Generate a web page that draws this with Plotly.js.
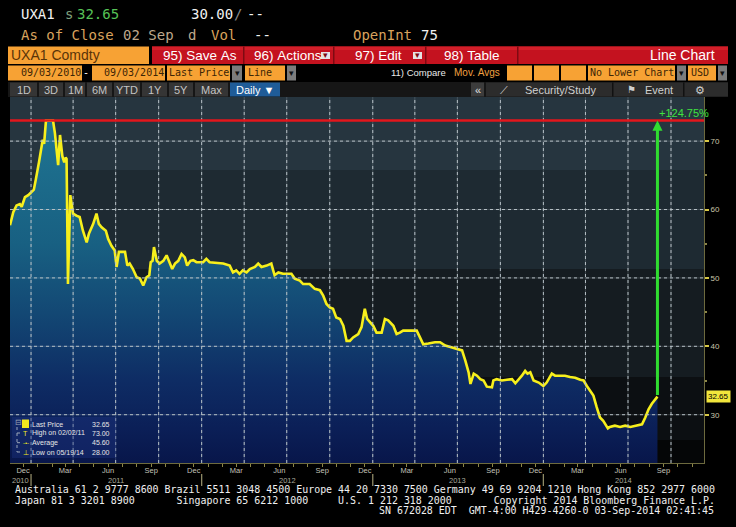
<!DOCTYPE html>
<html><head><meta charset="utf-8">
<script src="https://cdn.plot.ly/plotly-3.0.1.min.js"></script>
<style>html,body{margin:0;padding:0;background:#000;overflow:hidden}#chart{width:736px;height:527px}</style>
</head><body><div id="chart"></div>
<script>
// ---------------- data ----------------
const DATES = [
'2010-11-17','2010-11-24','2010-12-01','2010-12-08','2010-12-12','2010-12-19','2010-12-26','2011-01-02','2011-01-07','2011-01-11',
'2011-01-14','2011-01-18','2011-01-26','2011-01-29','2011-02-01','2011-02-02','2011-02-17','2011-02-21','2011-02-25','2011-02-28',
'2011-03-04','2011-03-06','2011-03-09','2011-03-13','2011-03-16','2011-03-18','2011-03-21','2011-03-26','2011-04-01','2011-04-08',
'2011-04-15','2011-04-22','2011-04-30','2011-05-05','2011-05-14','2011-05-21','2011-05-26','2011-06-01','2011-06-10','2011-06-15',
'2011-06-22','2011-06-29','2011-07-03','2011-07-08','2011-07-21','2011-07-26','2011-07-31','2011-08-07','2011-08-15','2011-08-22',
'2011-08-29','2011-09-05','2011-09-11','2011-09-14','2011-09-18','2011-09-21','2011-09-27','2011-10-03','2011-10-11','2011-10-18',
'2011-10-25','2011-10-30','2011-11-05','2011-11-12','2011-11-19','2011-11-26','2011-12-01','2011-12-08','2011-12-14','2011-12-21',
'2012-01-04','2012-01-11','2012-01-18','2012-02-02','2012-02-16','2012-03-01','2012-03-08','2012-03-15','2012-03-22','2012-03-29',
'2012-04-06','2012-04-13','2012-04-24','2012-05-01','2012-05-08','2012-05-19','2012-05-29','2012-06-02','2012-06-05','2012-06-13',
'2012-06-23','2012-07-11','2012-07-18','2012-07-29','2012-08-05','2012-08-19','2012-08-30','2012-09-10','2012-09-17','2012-09-24',
'2012-10-01','2012-10-08','2012-10-15','2012-10-23','2012-10-30','2012-11-06','2012-11-13','2012-11-20','2012-12-01','2012-12-08',
'2012-12-15','2012-12-20','2012-12-26','2013-01-02','2013-01-09','2013-01-20','2013-01-27','2013-02-03','2013-02-14','2013-02-21',
'2013-02-28','2013-03-07','2013-03-21','2013-04-05','2013-04-12','2013-04-19','2013-04-30','2013-05-14','2013-05-25','2013-06-05',
'2013-06-16','2013-06-30','2013-07-11','2013-07-18','2013-07-25','2013-07-29','2013-08-05','2013-08-12','2013-08-19','2013-08-26',
'2013-09-02','2013-09-13','2013-09-16','2013-09-23','2013-10-04','2013-10-15','2013-10-26','2013-11-02','2013-11-09','2013-11-16',
'2013-11-23','2013-11-28','2013-12-04','2013-12-11','2013-12-22','2014-01-01','2014-01-08','2014-01-19','2014-01-26','2014-02-06',
'2014-02-16','2014-02-27','2014-03-10','2014-03-21','2014-03-28','2014-04-04','2014-04-11','2014-04-18','2014-04-25','2014-05-02',
'2014-05-09','2014-05-19','2014-05-23','2014-06-03','2014-06-14','2014-06-25','2014-07-06','2014-07-20','2014-07-31','2014-08-07',
'2014-08-14','2014-08-21','2014-08-28','2014-09-02'
];
const PRICES = [
57.7,59.6,60.6,60.8,60.4,61.8,62.1,62.5,62.9,64.3,
65.7,66.9,70.2,69.6,72.2,73.0,73.0,71.2,68.5,66.5,
70.9,69.2,67.8,66.9,67.6,67.4,49.1,62.1,59.4,59.1,
58.9,56.9,55.2,56.5,57.9,59.4,57.9,57.4,56.9,55.7,
54.7,54.0,51.6,53.8,53.8,51.8,52.1,51.3,50.1,49.9,
48.9,50.1,50.4,52.3,52.5,54.5,52.5,52.1,52.5,53.3,
52.1,51.3,52.1,52.5,53.5,53.0,51.8,52.5,52.6,52.3,
52.3,52.8,52.3,52.2,52.1,51.8,50.8,51.1,50.6,51.1,
50.8,51.3,51.6,52.1,51.6,51.8,52.1,51.1,50.4,50.8,
50.6,50.6,49.9,49.6,49.1,49.1,48.4,48.2,47.4,46.2,
45.7,45.5,44.2,44.0,43.0,40.8,40.8,41.3,41.8,42.8,
45.5,44.0,43.5,43.0,42.0,42.0,44.0,43.8,43.0,41.8,
42.0,42.3,42.3,42.3,41.3,40.3,40.4,40.6,40.6,40.1,
39.9,39.6,39.4,37.9,36.2,34.5,36.0,35.7,35.2,35.0,
34.1,34.0,35.0,35.2,35.0,35.1,35.2,34.6,35.1,35.7,
36.4,36.0,36.2,35.0,34.7,34.2,34.7,36.0,35.7,35.7,
35.7,35.5,35.4,35.1,35.0,34.2,33.5,32.8,31.1,29.6,
29.1,28.0,28.2,28.4,28.2,28.4,28.2,28.4,28.6,29.6,
30.8,31.6,32.3,32.65
];
const LAST_PRICE = 32.65;
const HIGH_PRICE = 73.00;
const HIGH_DATE_LABEL = '02/02/11';
const AVERAGE_PRICE = 45.60;
const LOW_PRICE = 28.00;
const LOW_DATE_LABEL = '05/19/14';
const PCT_CHANGE_LABEL = '+124.75%';
const Y_TICKS = [30, 40, 50, 60, 70];
const Y_MINOR_TICKS = [35, 45, 55, 65];
const MONTH_ABBR = ['Jan','Feb','Mar','Apr','May','Jun','Jul','Aug','Sep','Oct','Nov','Dec'];
const LABELED_MONTHS = ['Dec','Mar','Jun','Sep'];
const YEARS = [2010, 2011, 2012, 2013, 2014];

// ---------------- layout helpers ----------------
const X_START = '2010-11-17', X_END = '2014-12-10 14:00';
const Y_RANGE = [22.94, 76.45];
const L = 10, R = 704, T = 97, B = 463;
const fx = p => (p - L) / (R - L);
const fy = p => (B - p) / (B - T);
const MONO = '"DejaVu Sans Mono", "Liberation Mono", monospace';
const SANS = '"Liberation Sans", Arial, sans-serif';
const NARROW = '"Liberation Sans Narrow", "Liberation Sans", sans-serif';
const NB = s => s.replace(/ /g, '\u00a0');
const shapes = [], annotations = [];
function rect(x0, y0, x1, y1, color, layer) {
  shapes.push({type:'rect', xref:'paper', yref:'paper', x0:fx(x0), x1:fx(x1), y0:fy(y1), y1:fy(y0),
    fillcolor:color, line:{width:0}, layer: layer || 'above'});
}
function label(x, y, text, color, size, family, anchor) {
  annotations.push({xref:'paper', yref:'paper', x:fx(x), y:fy(y), text:NB(text), showarrow:false,
    xanchor:anchor || 'left', yanchor:'middle', borderpad:0, font:{color:color, size:size, family:family}});
}

// background bands of the plot area
[[97,170,'#26353f'],[170,269,'#1e2a32'],[269,377,'#151c21'],[377,440,'#0c0f12'],[440,463,'#050607']]
  .forEach(b => rect(L, b[0], R, b[1], b[2], 'below'));

// ---------------- x ticks ----------------
const tickvals = [], ticktext = [], quarterStarts = [];
YEARS.forEach(y => {
  for (let m = 0; m < 12; m++) {
    const mm = String(m + 1).padStart(2, '0');
    const d = `${y}-${mm}-15`;
    if (d > X_START && d < X_END) { tickvals.push(d); ticktext.push(LABELED_MONTHS.includes(MONTH_ABBR[m]) ? MONTH_ABBR[m] : ''); }
    const q = `${y}-${mm}-01`;
    if (m % 3 === 0 && q > X_START && q < X_END) quarterStarts.push(q);
  }
});
// grid drawn over the area fill (as in the reference): faint solid base + dotted overlay
quarterStarts.forEach(q => {
  shapes.push({type:'line', xref:'x', yref:'paper', x0:q, x1:q, y0:0, y1:1, line:{color:'rgba(210,220,226,0.2)', width:1}, layer:'above'});
  shapes.push({type:'line', xref:'x', yref:'paper', x0:q, x1:q, y0:0, y1:1, line:{color:'#b6c0c6', width:1, dash:'dot'}, layer:'above'});
});
Y_TICKS.forEach(v => {
  shapes.push({type:'line', xref:'paper', yref:'y', x0:0, x1:1, y0:v, y1:v, line:{color:'rgba(210,220,226,0.2)', width:1}, layer:'above'});
  shapes.push({type:'line', xref:'paper', yref:'y', x0:0, x1:1, y0:v, y1:v, line:{color:'#b6c0c6', width:1, dash:'dot'}, layer:'above'});
});

// year labels centred on each year's visible span + separators
const t0 = new Date(X_START.replace(' ', 'T') + 'Z').getTime(), t1 = new Date(X_END.replace(' ', 'T') + 'Z').getTime();
YEARS.forEach(y => {
  const a = Math.max(t0, Date.UTC(y, 0, 1)), b = Math.min(t1, Date.UTC(y + 1, 0, 1));
  const mid = new Date((a + b) / 2).toISOString().slice(0, 10);
  annotations.push({xref:'x', yref:'paper', x:mid, y:fy(480), text:String(y), showarrow:false, yanchor:'middle',
    font:{size:7.5, color:'#a9a89c', family:NARROW}});
  if (Date.UTC(y, 0, 1) > t0) shapes.push({type:'line', xref:'x', yref:'paper', x0:`${y}-01-01`, x1:`${y}-01-01`,
    y0:fy(474), y1:fy(486), line:{color:'#8f8a66', width:1.3}, layer:'above'});
});

// ---------------- chart marks ----------------
const LAST_DATE = DATES[DATES.length - 1];
shapes.push({type:'line', xref:'paper', yref:'y', x0:0, x1:1, y0:HIGH_PRICE, y1:HIGH_PRICE,
  line:{color:'#e3161c', width:2.5}, layer:'above'});
annotations.push({xref:'x', yref:'y', x:LAST_DATE, y:HIGH_PRICE, ax:LAST_DATE, ay:LAST_PRICE, axref:'x', ayref:'y',
  text:'', showarrow:true, arrowhead:2, arrowsize:0.67, arrowwidth:3, arrowcolor:'#30dc30', standoff:0, startstandoff:0});
annotations.push({xref:'x', yref:'y', x:LAST_DATE, y:HIGH_PRICE, text:PCT_CHANGE_LABEL, showarrow:false,
  xanchor:'left', yanchor:'bottom', font:{size:11, color:'#3fe23f', family:NARROW}});
annotations.push({xref:'paper', yref:'y', x:fx(706), y:LAST_PRICE, text:LAST_PRICE.toFixed(2), showarrow:false,
  xanchor:'left', yanchor:'middle', bgcolor:'#f2e63c', borderpad:1, font:{size:8, color:'#000', family:NARROW}});

// legend box
rect(12, 417, 116, 458, 'rgba(30,52,130,0.4)', 'above');
shapes.push({type:'line', xref:'paper', yref:'paper', x0:fx(17), x1:fx(17), y0:fy(427), y1:fy(452),
  line:{color:'#9aa6b8', width:1, dash:'dot'}});
[433, 442.7, 452].forEach(yy => shapes.push({type:'line', xref:'paper', yref:'paper', x0:fx(17), x1:fx(21), y0:fy(yy), y1:fy(yy),
  line:{color:'#9aa6b8', width:1, dash:'dot'}}));
label(13.5, 422, '⊟', '#9aa4b4', 8, SANS);
rect(22, 419.5, 29, 428, '#f2e81e', 'above');
label(25.5, 433.3, 'T', '#f2e81e', 7, SANS, 'center');
label(25.5, 442.7, '-•-', '#f2e81e', 6, SANS, 'center');
label(25.5, 452, '⊥', '#f2e81e', 7, SANS, 'center');
const LEG = [['Last Price', LAST_PRICE], ['High on ' + HIGH_DATE_LABEL, HIGH_PRICE], ['Average', AVERAGE_PRICE], ['Low on ' + LOW_DATE_LABEL, LOW_PRICE]];
[424, 433.3, 442.7, 452].forEach((yy, i) => {
  label(31, yy, LEG[i][0], '#e6e6e6', 7, NARROW);
  label(111, yy, LEG[i][1].toFixed(2), '#e6e6e6', 7, NARROW, 'right');
});

// ---------------- header ----------------
label(20, 14, 'UXA1', '#f2f2f2', 14, MONO);
label(64, 14, 's', '#7fa07f', 14, MONO);
label(76, 14, LAST_PRICE.toFixed(2), '#56c256', 14, MONO);
label(190, 14, '30.00', '#f2f2f2', 14, MONO);
label(233, 14, '/', '#8a8a8a', 14, MONO);
label(246, 14, '--', '#f2f2f2', 14, MONO);
label(20, 35, 'As of Close', '#d9a35d', 14, MONO);
label(122, 35, '02 Sep', '#bfa88c', 14, MONO);
label(187, 35, 'd', '#bfa88c', 14, MONO);
label(210, 35, 'Vol', '#d9a35d', 14, MONO);
label(253, 35, '--', '#f2f2f2', 14, MONO);
label(352, 35, 'OpenInt', '#d9a35d', 14, MONO);
label(420, 35, '75', '#f2f2f2', 14, MONO);

const ORANGE = '#f7a234', DARKTXT = '#3c2506', GREYDD = '#7c7c7c';
rect(8, 46.5, 149, 64, ORANGE);
label(10, 55.5, 'UXA1 Comdty', '#5a3408', 14, SANS);
rect(152, 46.5, 728, 64, '#c4121f');
rect(152, 46.5, 728, 50, '#d21e29');
[243, 333, 425, 517].forEach(x => rect(x, 46.5, x + 1.5, 64, '#7e0a12'));
label(162, 55.5, '95) Save As', '#ffffff', 13.5, SANS);
label(253, 55.5, '96) Actions', '#ffffff', 13.5, SANS);
rect(321, 52, 330, 59, '#e4e4e4'); label(325.5, 55.5, '▾', '#7e0a12', 9, SANS, 'center');
label(354, 55.5, '97) Edit', '#ffffff', 13.5, SANS);
rect(413, 52, 422, 59, '#e4e4e4'); label(417.5, 55.5, '▾', '#7e0a12', 9, SANS, 'center');
label(443, 55.5, '98) Table', '#ffffff', 13.5, SANS);
label(716, 55.5, 'Line Chart', '#ffffff', 14, SANS, 'right');

// row 4
rect(8, 65.5, 82, 80.5, ORANGE); label(20, 73, '09/03/2010', DARKTXT, 10, MONO);
label(86, 73, '-', '#ffffff', 10, MONO, 'center');
rect(92, 65.5, 165, 80.5, ORANGE); label(103, 73, '09/03/2014', DARKTXT, 10, MONO);
rect(167, 65.5, 230, 80.5, ORANGE); label(168, 73, 'Last Price', DARKTXT, 10, MONO);
rect(232, 65.5, 242, 80.5, GREYDD); label(237, 73, '▾', '#111', 9, SANS, 'center');
rect(245, 65.5, 285, 80.5, ORANGE); label(247, 73, 'Line', DARKTXT, 10, MONO);
rect(287, 65.5, 296, 80.5, GREYDD); label(291.5, 73, '▾', '#111', 9, SANS, 'center');
label(390, 73, '11) Compare', '#e8e8e8', 9.5, NARROW);
label(453, 73, 'Mov. Avgs', '#f0a040', 10, SANS);
[[507,532],[534,559],[561,586]].forEach(b => rect(b[0], 65.5, b[1], 80.5, ORANGE));
rect(588, 65.5, 675, 80.5, ORANGE); label(589, 73, 'No Lower Chart', DARKTXT, 10, MONO);
rect(677, 65.5, 686, 80.5, GREYDD); label(681.5, 73, '▾', '#111', 9, SANS, 'center');
rect(688, 65.5, 716, 80.5, ORANGE); label(690, 73, 'USD', DARKTXT, 10, MONO);
rect(718, 65.5, 727, 80.5, GREYDD); label(722.5, 73, '▾', '#111', 9, SANS, 'center');

// row 5
rect(8, 82, 728, 97, '#161616');
[[10,37,'1D'],[39,63,'3D'],[65,85,'1M'],[87,112,'6M'],[114,140,'YTD'],[142,167,'1Y'],[169,193,'5Y'],[195,228,'Max']]
  .forEach(b => { rect(b[0], 82.5, b[1], 96.5, '#353535'); label((b[0] + b[1]) / 2, 89.5, b[2], '#c4c4c4', 11, SANS, 'center'); });
rect(230, 82.5, 280, 96.5, '#1f5c98'); label(255, 89.5, 'Daily ▼', '#ffffff', 11, SANS, 'center');
rect(471, 82.5, 484, 96.5, '#3c3c3c'); label(477.5, 89.5, '«', '#e0e0e0', 11, SANS, 'center');
rect(486, 82.5, 728, 96.5, '#2c2c2c');
[612, 683].forEach(x => rect(x, 82.5, x + 1.5, 96.5, '#111'));
label(499, 89.5, '⟋', '#d0d0d0', 11, SANS);
label(524, 89.5, 'Security/Study', '#d0d0d0', 11, SANS);
label(626, 89.5, '⚑', '#d0d0d0', 10, SANS);
label(644, 89.5, 'Event', '#d0d0d0', 11, SANS);
label(700, 89.5, '⚙', '#d0d0d0', 11, SANS, 'center');

// footer
label(14, 489.5, 'Australia 61 2 9777 8600 Brazil 5511 3048 4500 Europe 44 20 7330 7500 Germany 49 69 9204 1210 Hong Kong 852 2977 6000', '#f0f0f0', 9.95, MONO);
label(14, 500, 'Japan 81 3 3201 8900       Singapore 65 6212 1000     U.S. 1 212 318 2000       Copyright 2014 Bloomberg Finance L.P.', '#f0f0f0', 9.95, MONO);
label(715, 510, 'SN 672028 EDT  GMT-4:00 H429-4260-0 03-Sep-2014 02:41:45', '#f0f0f0', 9.95, MONO, 'right');

// ---------------- plot ----------------
const trace = {
  x: DATES, y: PRICES, type: 'scatter', mode: 'lines', hoverinfo: 'skip',
  line: {color: '#f7ef1c', width: 2.6},
  fill: 'tozeroy',
  fillgradient: {type: 'vertical', start: Y_RANGE[0], stop: HIGH_PRICE,
    colorscale: [[0, '#08164a'], [0.1, '#0b1f57'], [0.24, '#0e2c64'], [0.44, '#134874'], [0.64, '#186082'], [1, '#1f7592']]}
};
const tickTrace = {x: [], y: [], xaxis: 'x2', yaxis: 'y', type: 'scatter', mode: 'none', hoverinfo: 'skip'};
const layout = {
  width: 736, height: 527,
  margin: {l: L, r: 736 - R, t: T, b: 527 - B},
  paper_bgcolor: '#000', plot_bgcolor: 'rgba(0,0,0,0)',
  showlegend: false,
  xaxis: {type: 'date', range: [X_START, X_END], tickmode: 'array', tickvals: tickvals, ticktext: ticktext,
    ticks: '', showgrid: false, zeroline: false,
    showline: true, linecolor: '#6d6a3e', linewidth: 1,
    tickfont: {size: 7.5, color: '#c2c2b8', family: NARROW}},
  xaxis2: {type: 'date', overlaying: 'x', anchor: 'y', side: 'bottom', range: [X_START, X_END],
    tickmode: 'array', tickvals: tickvals, ticks: 'outside', ticklen: 3, tickcolor: '#8c8648',
    showticklabels: false, showgrid: false, zeroline: false, showline: false},
  yaxis: {side: 'right', range: Y_RANGE, tickmode: 'array', tickvals: Y_TICKS, ticks: 'outside', ticklen: 4, tickwidth: 2,
    tickcolor: '#d8c846', showgrid: false, zeroline: false,
    showline: true, linecolor: '#6d6a3e', linewidth: 1,
    tickfont: {size: 8, color: '#cbc5a8', family: NARROW},
    minor: {tickmode: 'array', tickvals: Y_MINOR_TICKS, ticks: 'outside', ticklen: 2, tickcolor: '#8c8648', showgrid: false}},
  shapes: shapes, annotations: annotations
};
Plotly.newPlot('chart', [trace, tickTrace], layout, {staticPlot: true, displayModeBar: false});
</script></body></html>
